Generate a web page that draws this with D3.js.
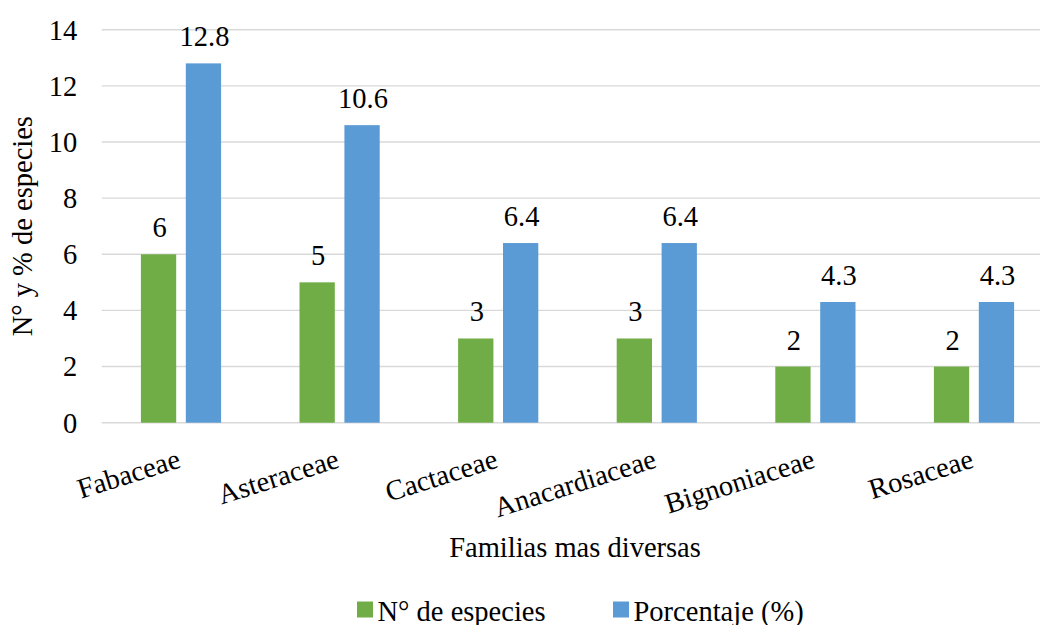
<!DOCTYPE html>
<html>
<head>
<meta charset="utf-8">
<script src="https://cdn.jsdelivr.net/npm/d3@7"></script>
<style>
  html, body { margin: 0; padding: 0; background: #fff; }
  svg { display: block; }
</style>
</head>
<body>
<svg id="chart" width="1040" height="625" font-family="Liberation Serif"></svg>
<script>
// Data
const families = ["Fabaceae", "Asteraceae", "Cactaceae", "Anacardiaceae", "Bignoniaceae", "Rosaceae"];
const nSpecies = [6, 5, 3, 3, 2, 2];
const percent = [12.8, 10.6, 6.4, 6.4, 4.3, 4.3];
const seriesNames = ["N° de especies", "Porcentaje (%)"];
const yTicks = [0, 2, 4, 6, 8, 10, 12, 14];

const colors = ["#70AD47", "#5B9BD5"];
const FONT = 28.5;
const FAMILY = "Liberation Serif";

const svg = d3.select("#chart");
const plot = { left: 101.7, right: 1053.3, top: 29.7, bottom: 422.7 };

const x0 = d3.scaleBand().domain(families).range([plot.left, plot.right]).padding(0);
const groupW = 80.2;
const x1 = d3.scaleBand().domain([0, 1]).range([-groupW / 2, groupW / 2]).paddingInner(0.214).paddingOuter(0);
const y = d3.scaleLinear().domain([0, 14]).range([plot.bottom, plot.top]);

function serif(sel) {
  sel.style("font-family", FAMILY).style("font-size", FONT + "px").attr("fill", "#000");
}

// Gridlines
svg.append("g")
  .selectAll("line")
  .data(yTicks)
  .join("line")
  .attr("x1", plot.left).attr("x2", plot.right)
  .attr("y1", d => y(d)).attr("y2", d => y(d))
  .attr("stroke", "#d9d9d9").attr("stroke-width", 1.4);

// Y axis tick labels
const yAxis = d3.axisLeft(y).tickValues(yTicks).tickSize(0).tickPadding(0).tickFormat(d3.format("d"));
const gy = svg.append("g").attr("transform", `translate(${plot.left - 24.5},0)`).call(yAxis);
gy.select(".domain").remove();
gy.attr("font-family", null).attr("font-size", null);
gy.selectAll("text").attr("dy", "0.33em").call(serif);

// Bars with value labels
const series = [nSpecies, percent];
const groups = svg.append("g").selectAll("g")
  .data(families)
  .join("g")
  .attr("transform", d => `translate(${x0(d) + x0.bandwidth() / 2},0)`);

groups.each(function (fam, i) {
  const g = d3.select(this);
  series.forEach((vals, s) => {
    const v = vals[i];
    g.append("rect")
      .attr("x", x1(s))
      .attr("width", x1.bandwidth())
      .attr("y", y(v))
      .attr("height", y(0) - y(v))
      .attr("fill", colors[s]);
    g.append("text")
      .attr("x", x1(s) + x1.bandwidth() / 2 + 1)
      .attr("y", y(v) - 17)
      .attr("text-anchor", "middle")
      .text(v)
      .call(serif);
  });
});

// X axis category labels (rotated)
svg.append("g").selectAll("text")
  .data(families)
  .join("text")
  .attr("transform", d => `translate(${x0(d) + x0.bandwidth() / 2 + 1},467) rotate(-17.5)`)
  .attr("text-anchor", "end")
  .text(d => d)
  .call(serif);

// Axis titles
svg.append("text")
  .attr("x", 575)
  .attr("y", 557)
  .attr("text-anchor", "middle")
  .text("Familias mas diversas")
  .call(serif);

svg.append("text")
  .attr("transform", `translate(32,${(plot.top + plot.bottom) / 2}) rotate(-90)`)
  .attr("text-anchor", "middle")
  .text("N° y % de especies")
  .call(serif);

// Legend
const legendX = [357, 613];
const legend = svg.append("g").selectAll("g")
  .data(seriesNames)
  .join("g")
  .attr("transform", (d, i) => `translate(${legendX[i]},601.5)`);
legend.append("rect").attr("width", 16).attr("height", 16).attr("fill", (d, i) => colors[i]);
legend.append("text")
  .attr("x", 20.5)
  .attr("y", 19)
  .text(d => d)
  .call(serif);
</script>
</body>
</html>
